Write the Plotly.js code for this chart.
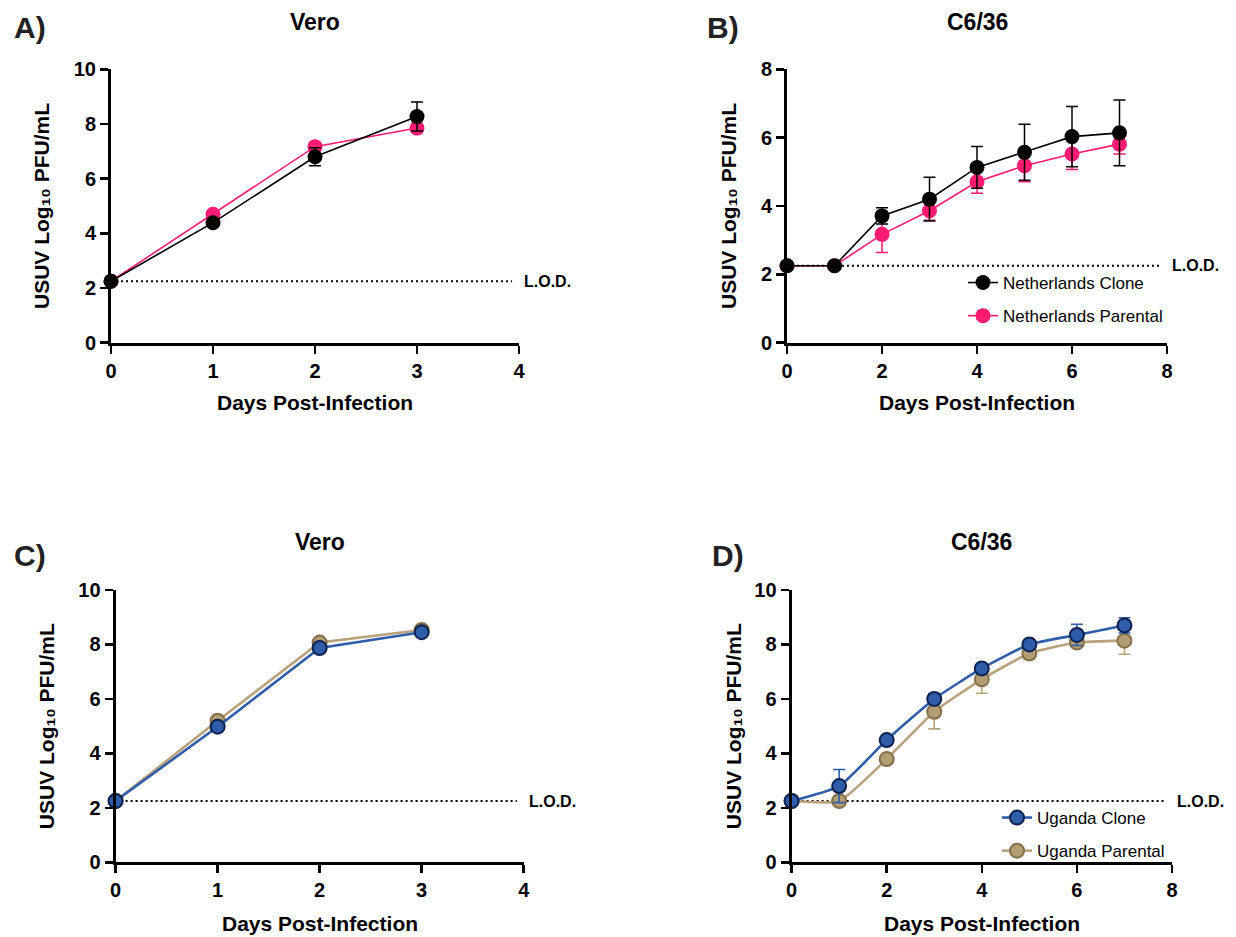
<!DOCTYPE html>
<html>
<head>
<meta charset="utf-8">
<script src="https://cdn.plot.ly/plotly-3.0.1.min.js"></script>
<style>html,body{margin:0;padding:0;background:#fff;}#chart{width:1236px;height:937px;}</style>
</head>
<body>
<div id="chart"></div>
<script>
// ---- data ----
const daysVero = [0, 1, 2, 3];
const daysC636 = [0, 1, 2, 3, 4, 5, 6, 7];
const LOD = 2.25;

const nlCloneVero = [2.25, 4.39, 6.80, 8.27];
const nlCloneVeroErr = [0, 0.05, 0.33, 0.53];
const nlParentalVero = [2.25, 4.70, 7.17, 7.85];
const nlParentalVeroErr = [0, 0.05, 0.05, 0.12];

const nlCloneC636 = [2.25, 2.25, 3.71, 4.20, 5.13, 5.57, 6.03, 6.14];
const nlCloneC636Err = [0, 0, 0.24, 0.64, 0.61, 0.82, 0.88, 0.96];
const nlParentalC636 = [2.25, 2.25, 3.17, 3.86, 4.71, 5.18, 5.52, 5.81];
const nlParentalC636Err = [0, 0, 0.53, 0.28, 0.34, 0.47, 0.45, 0.29];

const ugCloneVero = [2.25, 4.98, 7.87, 8.45];
const ugParentalVero = [2.25, 5.20, 8.07, 8.53];

const ugCloneC636 = [2.25, 2.80, 4.49, 6.00, 7.12, 8.00, 8.35, 8.70];
const ugCloneC636Err = [0, 0.61, 0.05, 0.20, 0.10, 0.05, 0.39, 0.28];
const ugParentalC636 = [2.25, 2.25, 3.79, 5.53, 6.72, 7.67, 8.07, 8.14];
const ugParentalC636Err = [0, 0, 0.05, 0.63, 0.51, 0.22, 0.12, 0.50];

const xTicksVero = [0, 1, 2, 3, 4];
const xTicksC636 = [0, 2, 4, 6, 8];
const yTicks10 = [0, 2, 4, 6, 8, 10];
const yTicks8 = [0, 2, 4, 6, 8];

const seriesNames = ["Netherlands Clone", "Netherlands Parental", "Uganda Clone", "Uganda Parental"];
const panelTitles = ["Vero", "C6/36", "Vero", "C6/36"];
const panelLetters = ["A)", "B)", "C)", "D)"];
const xTitle = "Days Post-Infection";
const yTitle = "USUV Log\u2081\u2080 PFU/mL";
const lodLabel = "L.O.D.";

// ---- styles ----
const FONT = "Liberation Sans, Arial, Helvetica, sans-serif";
const BLACK = "#000000";
const PINK = "#FF1A72";
const BLUE = "#2F5DAA";
const BLUE_EDGE = "#0E2251";
const TAN = "#B39D74";
const TAN_LINE = "#B8A27B";
const TAN_EDGE = "#86704A";

function errObj(arr, color, th) {
  return {type: "data", array: arr, visible: true, color: color, thickness: th, width: 6};
}

const traces = [
  // Panel A
  {x: daysVero, y: nlParentalVero, xaxis: "x", yaxis: "y", mode: "lines+markers", name: seriesNames[1], showlegend: false,
   line: {color: PINK, width: 1.6}, marker: {color: PINK, size: 15}, error_y: errObj(nlParentalVeroErr, PINK, 1.5), cliponaxis: false},
  {x: daysVero, y: nlCloneVero, xaxis: "x", yaxis: "y", mode: "lines+markers", name: seriesNames[0], showlegend: false,
   line: {color: BLACK, width: 1.6}, marker: {color: BLACK, size: 15}, error_y: errObj(nlCloneVeroErr, BLACK, 1.5), cliponaxis: false},
  // Panel B
  {x: daysC636, y: nlParentalC636, xaxis: "x2", yaxis: "y2", mode: "lines+markers", name: seriesNames[1], legend: "legend", legendgroup: "p", legendrank: 2,
   line: {color: PINK, width: 1.6}, marker: {color: PINK, size: 15}, error_y: errObj(nlParentalC636Err, PINK, 1.5), cliponaxis: false},
  {x: daysC636, y: nlCloneC636, xaxis: "x2", yaxis: "y2", mode: "lines+markers", name: seriesNames[0], legend: "legend", legendgroup: "c", legendrank: 1,
   line: {color: BLACK, width: 1.6}, marker: {color: BLACK, size: 15}, error_y: errObj(nlCloneC636Err, BLACK, 1.5), cliponaxis: false},
  // Panel C
  {x: daysVero, y: ugParentalVero, xaxis: "x3", yaxis: "y3", mode: "lines+markers", name: seriesNames[3], showlegend: false,
   line: {color: TAN_LINE, width: 2.6}, marker: {color: TAN, size: 14, line: {color: TAN_EDGE, width: 2}}, cliponaxis: false},
  {x: daysVero, y: ugCloneVero, xaxis: "x3", yaxis: "y3", mode: "lines+markers", name: seriesNames[2], showlegend: false,
   line: {color: BLUE, width: 2.6}, marker: {color: BLUE, size: 14, line: {color: BLUE_EDGE, width: 2}}, cliponaxis: false},
  // Panel D
  {x: daysC636, y: ugParentalC636, xaxis: "x4", yaxis: "y4", mode: "lines+markers", name: seriesNames[3], legend: "legend2", legendgroup: "up", legendrank: 2,
   line: {color: TAN_LINE, width: 2.6, shape: "spline", smoothing: 0.5}, marker: {color: TAN, size: 14, line: {color: TAN_EDGE, width: 2}},
   error_y: errObj(ugParentalC636Err, TAN_LINE, 1.6), cliponaxis: false},
  {x: daysC636, y: ugCloneC636, xaxis: "x4", yaxis: "y4", mode: "lines+markers", name: seriesNames[2], legend: "legend2", legendgroup: "uc", legendrank: 1,
   line: {color: BLUE, width: 2.6, shape: "spline", smoothing: 0.5}, marker: {color: BLUE, size: 14, line: {color: BLUE_EDGE, width: 2}},
   error_y: errObj(ugCloneC636Err, BLUE, 1.6), cliponaxis: false}
];

const W = 1236, H = 937;
const px = v => v / W;
const py = v => 1 - v / H;

function xAxis(dom, range, ticks, anchor) {
  return {domain: dom, range: range, anchor: anchor, tickvals: ticks, ticktext: ticks.map(String),
    showline: true, linecolor: BLACK, linewidth: 3, ticks: "outside", ticklen: 8, tickwidth: 2.5, tickcolor: BLACK,
    showgrid: false, zeroline: false, fixedrange: true, automargin: false,
    tickfont: {family: FONT, size: 20, color: BLACK, weight: "bold"}};
}
function yAxis(dom, range, ticks, anchor) {
  return {domain: dom, range: range, anchor: anchor, tickvals: ticks, ticktext: ticks.map(String),
    showline: true, linecolor: BLACK, linewidth: 3, ticks: "outside", ticklen: 8, tickwidth: 2.5, tickcolor: BLACK,
    showgrid: false, zeroline: false, fixedrange: true, automargin: false,
    tickfont: {family: FONT, size: 20, color: BLACK, weight: "bold"}};
}

const domA = [px(111), px(519)], domB = [px(787), px(1167)];
const domC = [px(115.6), px(523.7)], domD = [px(791.6), px(1172)];
const domTop = [py(342.7), py(69.3)], domBot = [py(862.3), py(590)];

const annotations = [];
const shapes = [];
const panels = [
  {xr: "x", yr: "y", dom: domA, ydom: domTop, top: 21.7, letterY: 28, letterX: 12, xTitleY: 402, yTitleX: 42},
  {xr: "x2", yr: "y2", dom: domB, ydom: domTop, top: 21.7, letterY: 28, letterX: 705, xTitleY: 402, yTitleX: 729},
  {xr: "x3", yr: "y3", dom: domC, ydom: domBot, top: 541.7, letterY: 555, letterX: 12, xTitleY: 923, yTitleX: 46},
  {xr: "x4", yr: "y4", dom: domD, ydom: domBot, top: 541.7, letterY: 555, letterX: 710, xTitleY: 923, yTitleX: 733}
];
const titleFont = {family: FONT, size: 21, color: BLACK, weight: "bold"};
panels.forEach((p, i) => {
  annotations.push({xref: "paper", yref: "paper", x: (p.dom[0] + p.dom[1]) / 2, y: py(p.top), xanchor: "center", yanchor: "middle",
    text: panelTitles[i], showarrow: false, font: {family: FONT, size: 23, color: BLACK, weight: "bold"}});
  annotations.push({xref: "paper", yref: "paper", x: px(p.letterX), y: py(p.letterY), xanchor: "left", yanchor: "middle",
    text: panelLetters[i], showarrow: false, font: {family: FONT, size: 30, color: "#222222", weight: "bold"}});
  // axis titles
  annotations.push({xref: "paper", yref: "paper", x: (p.dom[0] + p.dom[1]) / 2, y: py(p.xTitleY), xanchor: "center", yanchor: "middle",
    text: xTitle, showarrow: false, font: titleFont});
  annotations.push({xref: "paper", yref: "paper", x: px(p.yTitleX), y: (p.ydom[0] + p.ydom[1]) / 2, xanchor: "center", yanchor: "middle",
    text: yTitle, textangle: -90, showarrow: false, font: titleFont});
  // limit of detection
  annotations.push({xref: p.xr + " domain", yref: p.yr, x: 1, y: LOD, xanchor: "left", yanchor: "middle", xshift: 3,
    text: lodLabel, showarrow: false, font: {family: FONT, size: 16, color: BLACK, weight: "bold"}});
  shapes.push({type: "line", xref: p.xr + " domain", yref: p.yr, x0: 0, x1: 0.983, y0: LOD, y1: LOD,
    line: {color: BLACK, width: 2, dash: "2px,3px"}, layer: "below"});
});

const legendBase = {bgcolor: "rgba(0,0,0,0)", borderwidth: 0, font: {family: FONT, size: 17, color: BLACK},
  tracegroupgap: 8, itemsizing: "trace", xanchor: "left", yanchor: "top", itemclick: false, itemdoubleclick: false};

const layout = {
  width: W, height: H, margin: {l: 0, r: 0, t: 0, b: 0},
  paper_bgcolor: "#fff", plot_bgcolor: "rgba(0,0,0,0)",
  font: {family: FONT, color: BLACK},
  showlegend: true,
  xaxis: xAxis(domA, [0, 4], xTicksVero, "y"),
  yaxis: yAxis(domTop, [0, 10], yTicks10, "x"),
  xaxis2: xAxis(domB, [0, 8], xTicksC636, "y2"),
  yaxis2: yAxis(domTop, [0, 8], yTicks8, "x2"),
  xaxis3: xAxis(domC, [0, 4], xTicksVero, "y3"),
  yaxis3: yAxis(domBot, [0, 10], yTicks10, "x3"),
  xaxis4: xAxis(domD, [0, 8], xTicksC636, "y4"),
  yaxis4: yAxis(domBot, [0, 10], yTicks10, "x4"),
  legend: Object.assign({}, legendBase, {x: px(963), y: py(265)}),
  legend2: Object.assign({}, legendBase, {x: px(997), y: py(800)}),
  annotations: annotations,
  shapes: shapes
};

Plotly.newPlot("chart", traces, layout, {displayModeBar: false, staticPlot: true});
</script>
</body>
</html>
